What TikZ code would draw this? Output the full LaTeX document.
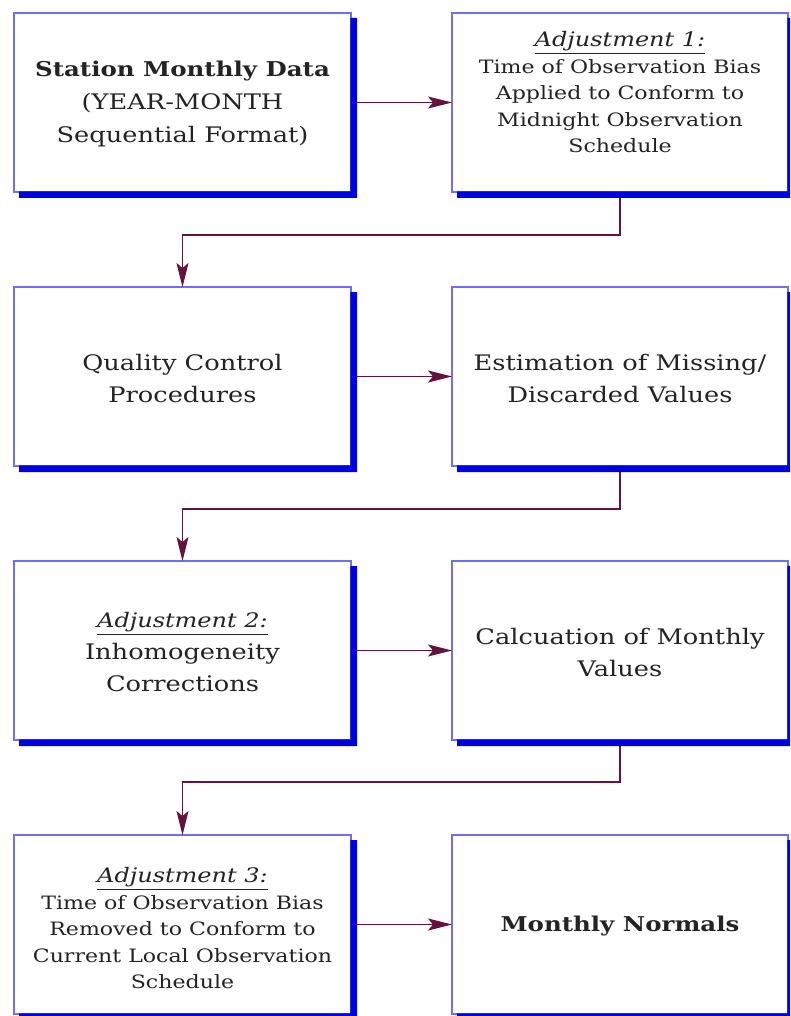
\documentclass[tikz,border=0pt]{standalone}
\usepackage{fontspec}
\setmainfont[FakeStretch=1.2]{DejaVu Serif}
\usetikzlibrary{calc,arrows.meta}
\definecolor{bordblue}{RGB}{110,110,250}
\definecolor{shadblue}{RGB}{0,0,225}
\definecolor{connred}{RGB}{100,20,60}
\definecolor{txtgray}{RGB}{35,35,35}
\tikzset{
 box/.style={draw=bordblue, line width=1.3pt, fill=white, minimum width=337pt, minimum height=179pt, anchor=north west, inner sep=0pt, outer sep=0pt},
 txt/.style={align=center, text=txtgray, inner sep=0pt},
 big/.style={font=\fontsize{21.4}{32}\selectfont},
 small/.style={font=\fontsize{18.4}{26.5}\selectfont},
 conn/.style={draw=connred, line width=1.4pt, -{Stealth[length=24pt,width=12pt,inset=5pt]}},
 shad/.style={fill=shadblue},
}
\newcommand{\boxshadow}[1]{\fill[shad] ($(#1.north east)+(-0.6,5)$) -- ($(#1.north east)+(6,5)$) -- ($(#1.south east)+(6,6)$) -- ($(#1.south west)+(5,6)$) -- ($(#1.south west)+(5,-0.6)$) -- ($(#1.south east)+(-0.6,-0.6)$) -- cycle;}
\newcommand{\adj}[1]{{\fontsize{20}{26.5}\selectfont\underline{\textit{Adjustment #1:}}}}
\newcommand{\bigbold}[1]{{\fontsize{20.4}{33}\selectfont\textbf{#1}}}
\begin{document}
\begin{tikzpicture}[x=1pt,y=-1pt]
\useasboundingbox (0,0) rectangle (790,1016);
\clip (0,0) rectangle (790,1016);
\fill[white] (0,0) rectangle (790,1016);
% boxes
\node[box] (l1) at (14,13) {};
\node[box, minimum width=336pt] (r1) at (452,13) {};
\node[box] (l2) at (14,287) {};
\node[box, minimum width=336pt] (r2) at (452,287) {};
\node[box] (l3) at (14,561) {};
\node[box, minimum width=336pt] (r3) at (452,561) {};
\node[box] (l4) at (14,835) {};
\node[box, minimum width=336pt] (r4) at (452,835) {};
% texts
\node[txt,font=\fontsize{21.4}{33}\selectfont] (l1t) at ($(l1.center)+(0,1)$) {\bigbold{Station Monthly Data}\\(YEAR-MONTH\\Sequential Format)};
\node[txt,small] (r1t) at ($(r1.center)+(0,-10)$) {\adj{1}\\Time of Observation Bias\\Applied to Conform to\\Midnight Observation\\Schedule};
\node[txt,big] (l2t) at ($(l2.center)+(0,2)$) {Quality Control\\Procedures};
\node[txt,big] (r2t) at ($(r2.center)+(0,2)$) {Estimation of Missing/\\Discarded Values};
\node[txt,big] (l3t) at ($(l3.center)+(0,2)$) {\adj{2}\\Inhomogeneity\\Corrections};
\node[txt,big] (r3t) at ($(r3.center)+(0,2)$) {Calcuation of Monthly\\Values};
\node[txt,small] (l4t) at ($(l4.center)+(0,4)$) {\adj{3}\\Time of Observation Bias\\Removed to Conform to\\Current Local Observation\\Schedule};
\node[txt,big] (r4t) at ($(r4.center)+(0,2)$) {\bigbold{Monthly Normals}};
% connectors
\draw[conn] (l1.east) -- (r1.west);
\draw[conn] (r1.south) -- ++(0,43) -| (l2.north);
\draw[conn] (l2.east) -- (r2.west);
\draw[conn] (r2.south) -- ++(0,43) -| (l3.north);
\draw[conn] (l3.east) -- (r3.west);
\draw[conn] (r3.south) -- ++(0,42) -| (l4.north);
\draw[conn] (l4.east) -- (r4.west);
% shadows
\boxshadow{l1}\boxshadow{r1}\boxshadow{l2}\boxshadow{r2}
\boxshadow{l3}\boxshadow{r3}\boxshadow{l4}\boxshadow{r4}
\end{tikzpicture}
\end{document}
